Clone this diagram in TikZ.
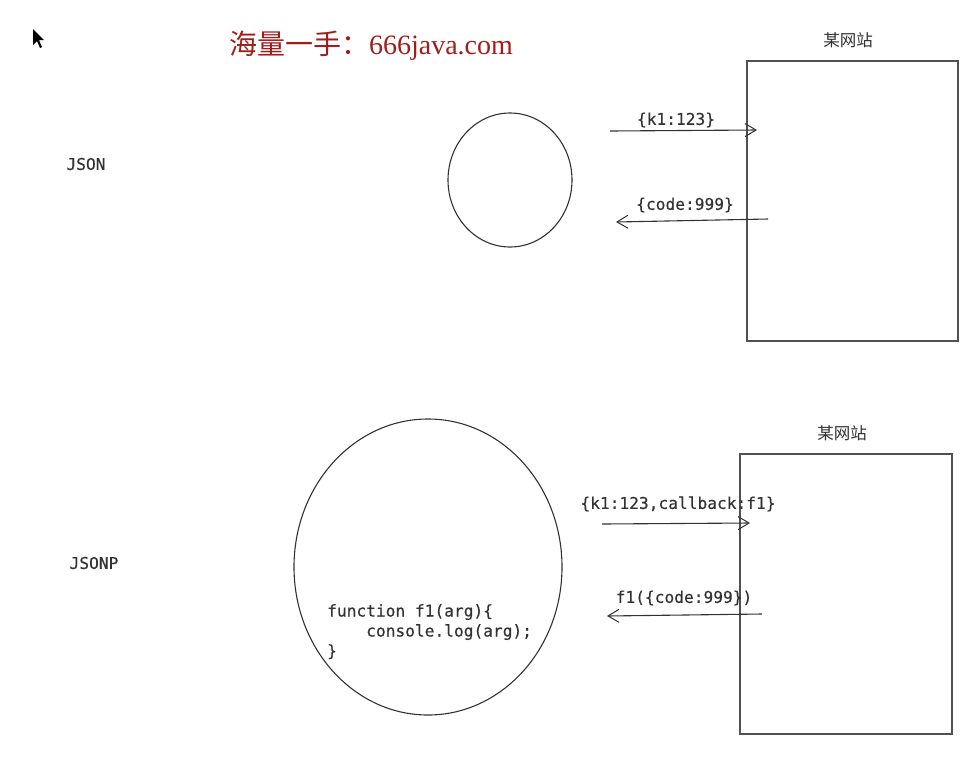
\documentclass[tikz,border=0pt]{standalone}
\usepackage{fontspec}
\newfontfamily\codefont[FakeBold=0.35]{DejaVu Sans Mono}
\newfontfamily\cjk{Noto Sans CJK SC}
\newfontfamily\titleserif{Liberation Serif}
\usetikzlibrary{shapes.geometric,arrows.meta}
\definecolor{ink}{RGB}{50,50,50}
\definecolor{titlered}{RGB}{160,30,26}
\tikzset{
  lbl/.style={text=ink,font=\codefont\fontsize{16.2}{20}\selectfont,inner sep=0pt},
  site/.style={text=ink,font=\cjk\fontsize{16.5}{20}\selectfont,inner sep=0pt},
  box/.style={draw=ink!85,line width=1.3pt,inner sep=0pt},
  blob/.style={draw=ink,line width=1.1pt,ellipse,inner sep=0pt},
  msg/.style={draw=ink,line width=1.1pt,-{Straight Barb[length=11pt,width=13pt,line width=1pt]}}
}
\begin{document}
\begin{tikzpicture}[x=1pt,y=-1pt]
\useasboundingbox (0,0) rectangle (974,756);
% cursor
\fill[black] (33,29) -- (33,45) -- (37,41) -- (40,48) -- (42,47) -- (39,40) -- (44,40) -- cycle;
% title
\node[text=titlered,inner sep=0pt] (title) at (371,46) {\fontsize{28}{30}\selectfont{\cjk 海量一手：}{\titleserif 666java.com}};
% labels
\node[lbl] (json) at (86,164) {JSON};
\node[lbl] (jsonp) at (94,563) {JSONP};
% top part
\node[blob,minimum width=124pt,minimum height=134pt] (c1) at (510,180) {};
\node[box,minimum width=211pt,minimum height=280pt] (r1) at (852.5,201) {};
\node[site] (s1) at (848,40) {某网站};
\coordinate (a1s) at (610,131);
\coordinate (a1e) at (757,130);
\draw[msg] (a1s) -- (a1e);
\node[lbl] (l1) at (676,120) {\{k1:123\}};
\coordinate (a2s) at (768,219);
\coordinate (a2e) at (616,222);
\draw[msg] (a2s) -- (a2e);
\node[lbl] (l2) at (685,205) {\{code:999\}};
% bottom part
\node[blob,minimum width=268pt,minimum height=296pt] (c2) at (428,567) {};
\node[box,minimum width=212pt,minimum height=280pt] (r2) at (846,594) {};
\node[site] (s2) at (842,433) {某网站};
\coordinate (b1s) at (602,524);
\coordinate (b1e) at (750,523);
\draw[msg] (b1s) -- (b1e);
\node[lbl] (l3) at (678,504) {\{k1:123,callback:f1\}};
\coordinate (b2s) at (762,614);
\coordinate (b2e) at (607,616);
\draw[msg] (b2s) -- (b2e);
\node[lbl] (l4) at (684,598) {f1(\{code:999\})};
\node[lbl,align=left,anchor=north west] (code) at (327,604) {function f1(arg)\{\\\phantom{xxxx}console.log(arg);\\\}};
\end{tikzpicture}
\end{document}
